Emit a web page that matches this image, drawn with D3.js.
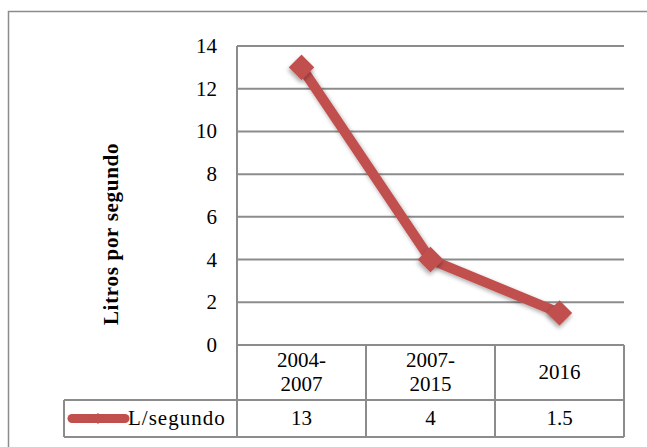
<!DOCTYPE html>
<html>
<head>
<meta charset="utf-8">
<script src="https://cdn.jsdelivr.net/npm/d3@7"></script>
<style>
  body { margin: 0; background: #fff; }
  text { font-family: "Liberation Serif", "DejaVu Serif", serif; fill: #000; }
</style>
</head>
<body>
<div id="chart"></div>
<script>
var categories = [["2004-", "2007"], ["2007-", "2015"], ["2016"]];
var values = [13, 4, 1.5];
var seriesName = "L/segundo";
var yTicks = [0, 2, 4, 6, 8, 10, 12, 14];
var yTitle = "Litros por segundo";

var W = 647, H = 447;
var plot = {left: 237, right: 624, top: 46, bottom: 345};
var rowCat = 400, rowData = 437, tableLeft = 64;
var red = "#c0504d", grid = "#8c8c8c";
var fs = 21;

var svg = d3.select("#chart").append("svg")
  .attr("width", W).attr("height", H);

var defs = svg.append("defs");
var f = defs.append("filter").attr("id", "shadow")
  .attr("x", "-50%").attr("y", "-50%").attr("width", "200%").attr("height", "200%");
f.append("feDropShadow").attr("dx", 1.5).attr("dy", 2.5).attr("stdDeviation", 2)
  .attr("flood-color", "#000").attr("flood-opacity", 0.35);

// outer frame
svg.append("rect").attr("x", 8.5).attr("y", 11.5).attr("width", 700).attr("height", 500)
  .attr("fill", "none").attr("stroke", grid).attr("stroke-width", 1.5);

var y = d3.scaleLinear().domain([0, 14]).range([plot.bottom, plot.top]);
var x = d3.scaleBand().domain(d3.range(categories.length))
  .range([plot.left, plot.right]);

// gridlines
svg.append("g").selectAll("line").data(yTicks).enter().append("line")
  .attr("x1", plot.left).attr("x2", plot.right)
  .attr("y1", function(d){ return y(d); }).attr("y2", function(d){ return y(d); })
  .attr("stroke", grid).attr("stroke-width", 2);

// y tick labels
svg.append("g").selectAll("text").data(yTicks).enter().append("text")
  .attr("x", 217).attr("y", function(d){ return y(d); })
  .attr("dy", "0.33em").attr("text-anchor", "end")
  .attr("font-size", fs).text(function(d){ return d; });

// y title
svg.append("text")
  .attr("transform", "translate(118,234) rotate(-90)")
  .attr("text-anchor", "middle").attr("font-size", 21).attr("font-weight", "bold")
  .attr("letter-spacing", 0.7)
  .text(yTitle);

// table lines
var tg = svg.append("g").attr("stroke", grid).attr("stroke-width", 2);
tg.append("line").attr("x1", plot.left).attr("x2", plot.left).attr("y1", plot.top).attr("y2", rowData);
tg.append("line").attr("x1", plot.right).attr("x2", plot.right).attr("y1", plot.bottom).attr("y2", rowData);
tg.selectAll(".v").data(d3.range(1, categories.length)).enter().append("line")
  .attr("x1", function(i){ return x(i); }).attr("x2", function(i){ return x(i); })
  .attr("y1", plot.bottom).attr("y2", rowData);
tg.append("line").attr("x1", tableLeft).attr("x2", plot.right).attr("y1", rowCat).attr("y2", rowCat);
tg.append("line").attr("x1", tableLeft).attr("x2", plot.right).attr("y1", rowData).attr("y2", rowData);
tg.append("line").attr("x1", tableLeft).attr("x2", tableLeft).attr("y1", rowCat).attr("y2", rowData);

// category labels
categories.forEach(function(c, i){
  var cx = x(i) + x.bandwidth() / 2;
  var midY = (plot.bottom + rowCat) / 2;
  var t = svg.append("text").attr("text-anchor", "middle").attr("font-size", fs);
  c.forEach(function(s, j){
    t.append("tspan").attr("x", cx)
      .attr("y", midY + (j - (c.length - 1) / 2) * 24)
      .attr("dy", "0.33em").text(s);
  });
});

// data row values
svg.append("g").selectAll("text").data(values).enter().append("text")
  .attr("x", function(d, i){ return x(i) + x.bandwidth() / 2; })
  .attr("y", (rowCat + rowData) / 2).attr("dy", "0.33em")
  .attr("text-anchor", "middle").attr("font-size", fs)
  .text(function(d){ return d; });

// legend key
var ly = (rowCat + rowData) / 2;
svg.append("line").attr("x1", 72).attr("x2", 125).attr("y1", ly).attr("y2", ly)
  .attr("stroke", red).attr("stroke-width", 9).attr("stroke-linecap", "round");
svg.append("path").attr("d", d3.symbol(d3.symbolDiamond, 60)())
  .attr("transform", "translate(98," + ly + ") scale(1,0.8)").attr("fill", red);
svg.append("text").attr("x", 128).attr("y", ly).attr("dy", "0.33em")
  .attr("font-size", fs).attr("letter-spacing", 1).text(seriesName);

// series line
var line = d3.line()
  .x(function(d, i){ return x(i) + x.bandwidth() / 2; })
  .y(function(d){ return y(d); });
svg.append("path").datum(values).attr("d", line)
  .attr("fill", "none").attr("stroke", red).attr("stroke-width", 10)
  .attr("stroke-linejoin", "round").attr("filter", "url(#shadow)");

svg.append("g").selectAll("rect").data(values).enter().append("rect")
  .attr("x", -9).attr("y", -9).attr("width", 18).attr("height", 18)
  .attr("transform", function(d, i){
    return "translate(" + (x(i) + x.bandwidth() / 2) + "," + y(d) + ") rotate(45)";
  })
  .attr("fill", red).attr("filter", "url(#shadow)");
</script>
</body>
</html>
